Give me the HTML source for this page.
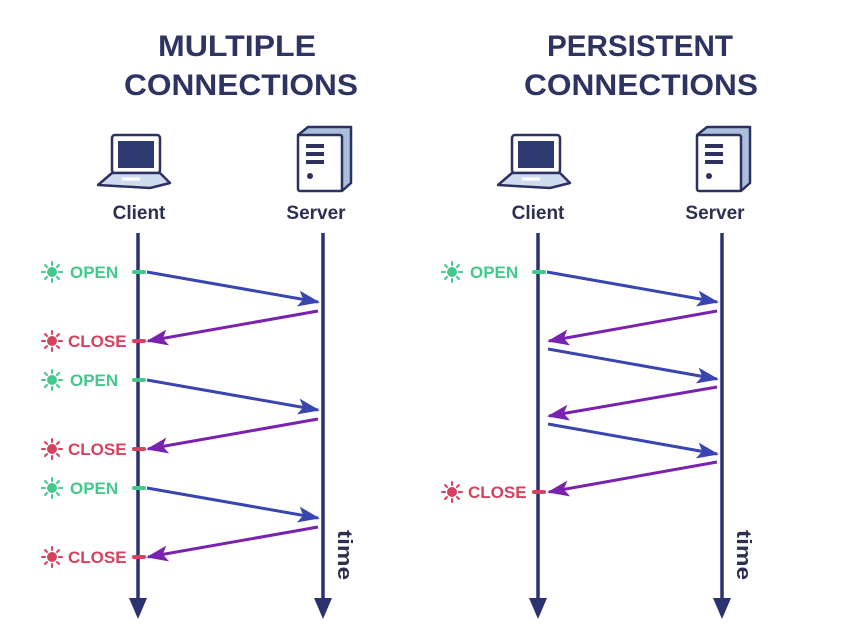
<!DOCTYPE html>
<html><head><meta charset="utf-8"><style>
html,body{margin:0;padding:0;background:#fff;}
svg{display:block;}
text{font-family:"Liberation Sans",sans-serif;font-weight:bold;}
</style></head><body>
<svg width="868" height="641" viewBox="0 0 868 641" xmlns="http://www.w3.org/2000/svg">
<defs>
<marker id="hb" markerUnits="userSpaceOnUse" markerWidth="22" markerHeight="16" refX="20" refY="8" orient="auto"><path d="M0,0 L22,8 L0,16 L5,8 Z" fill="#3a45b0"/></marker>
<marker id="hp" markerUnits="userSpaceOnUse" markerWidth="22" markerHeight="16" refX="20" refY="8" orient="auto"><path d="M0,0 L22,8 L0,16 L5,8 Z" fill="#7a22b0"/></marker>
<g id="sun"><circle r="4.5"/><g stroke-width="2" stroke-linecap="round"><line x1="0" y1="-7" x2="0" y2="-10"/><line x1="0" y1="7" x2="0" y2="10"/><line x1="-7" y1="0" x2="-10" y2="0"/><line x1="7" y1="0" x2="10" y2="0"/><line x1="5" y1="5" x2="7" y2="7"/><line x1="-5" y1="5" x2="-7" y2="7"/><line x1="5" y1="-5" x2="7" y2="-7"/><line x1="-5" y1="-5" x2="-7" y2="-7"/></g></g>
<g id="laptop"><rect x="12" y="2" width="48" height="38" rx="3" fill="#fff" stroke="#2d3160" stroke-width="2.5"/><rect x="18" y="8" width="36" height="27" fill="#2d3a70"/><path d="M12,40 L60,40 L70,50 L50,55 L-2,52 Z" fill="#cfdcf0" stroke="#2d3160" stroke-width="2.5" stroke-linejoin="round"/><line x1="22" y1="46" x2="40" y2="46" stroke="#fff" stroke-width="3"/></g>
<g id="server"><path d="M2,10 L12,2 L55,2 L55,58 L46,66 Z" fill="#a9bfdc" stroke="#2d3160" stroke-width="2.5" stroke-linejoin="round"/><rect x="2" y="10" width="44" height="56" rx="2" fill="#fff" stroke="#2d3160" stroke-width="2.5"/><rect x="10" y="19" width="18" height="4" fill="#2d3160"/><rect x="10" y="27" width="18" height="4" fill="#2d3160"/><rect x="10" y="35" width="18" height="4" fill="#2d3160"/><circle cx="14" cy="51" r="3" fill="#2d3160"/></g>
</defs>
<g fill="#2e3461" font-size="30">
<text x="237" y="56" text-anchor="middle" textLength="158" lengthAdjust="spacingAndGlyphs">MULTIPLE</text>
<text x="241" y="95" text-anchor="middle" textLength="234" lengthAdjust="spacingAndGlyphs">CONNECTIONS</text>
<text x="640" y="56" text-anchor="middle" textLength="186" lengthAdjust="spacingAndGlyphs">PERSISTENT</text>
<text x="641" y="95" text-anchor="middle" textLength="234" lengthAdjust="spacingAndGlyphs">CONNECTIONS</text>
</g>
<use href="#laptop" x="100" y="133"/><use href="#server" x="296" y="125"/>
<use href="#laptop" x="500" y="133"/><use href="#server" x="695" y="125"/>
<g fill="#2e3050" font-size="19" text-anchor="middle">
<text x="139" y="219">Client</text><text x="316" y="219">Server</text>
<text x="538" y="219">Client</text><text x="715" y="219">Server</text>
</g>
<g stroke="#2b3270" stroke-width="3.5">
<line x1="138" y1="233" x2="138" y2="605"/><line x1="323" y1="233" x2="323" y2="605"/>
<line x1="538" y1="233" x2="538" y2="605"/><line x1="722" y1="233" x2="722" y2="605"/>
</g>
<g fill="#2b3270">
<path d="M129,598 L147,598 L138,619 Z"/><path d="M314,598 L332,598 L323,619 Z"/>
<path d="M529,598 L547,598 L538,619 Z"/><path d="M713,598 L731,598 L722,619 Z"/>
</g>
<g font-size="20" fill="#2e3050"><text transform="translate(338,530) rotate(90)" textLength="50" lengthAdjust="spacingAndGlyphs">time</text><text transform="translate(737,530) rotate(90)" textLength="50" lengthAdjust="spacingAndGlyphs">time</text></g>
<g fill="#45c88c" stroke="#45c88c">
<use href="#sun" x="52" y="272"/><use href="#sun" x="52" y="380"/><use href="#sun" x="52" y="488"/><use href="#sun" x="452" y="272"/>
</g>
<g fill="#d8415e" stroke="#d8415e">
<use href="#sun" x="52" y="341"/><use href="#sun" x="52" y="449"/><use href="#sun" x="52" y="557"/><use href="#sun" x="452" y="492"/>
</g>
<g font-size="17">
<g fill="#45c88c"><text x="70" y="278">OPEN</text><text x="70" y="386">OPEN</text><text x="70" y="494">OPEN</text><text x="470" y="278">OPEN</text></g>
<g fill="#d8415e"><text x="68" y="347">CLOSE</text><text x="68" y="455">CLOSE</text><text x="68" y="563">CLOSE</text><text x="468" y="498">CLOSE</text></g>
</g>
<g stroke-width="4" stroke-linecap="round">
<g stroke="#45c88c"><line x1="134" y1="272" x2="144" y2="272"/><line x1="134" y1="380" x2="144" y2="380"/><line x1="134" y1="488" x2="144" y2="488"/><line x1="534" y1="272" x2="544" y2="272"/></g>
<g stroke="#d8415e"><line x1="134" y1="341" x2="144" y2="341"/><line x1="134" y1="449" x2="144" y2="449"/><line x1="134" y1="557" x2="144" y2="557"/><line x1="534" y1="492" x2="544" y2="492"/></g>
</g>
<g stroke-width="3" fill="none">
<g stroke="#3a45b0" marker-end="url(#hb)">
<line x1="147" y1="272" x2="318" y2="302"/><line x1="147" y1="380" x2="318" y2="410"/><line x1="147" y1="488" x2="318" y2="518"/>
<line x1="547" y1="272" x2="717" y2="302"/><line x1="548" y1="349" x2="717" y2="379"/><line x1="548" y1="424" x2="717" y2="454"/>
</g>
<g stroke="#7a22b0" marker-end="url(#hp)">
<line x1="318" y1="311" x2="148" y2="341"/><line x1="318" y1="419" x2="148" y2="449"/><line x1="318" y1="527" x2="148" y2="557"/>
<line x1="717" y1="311" x2="549" y2="341"/><line x1="717" y1="387" x2="549" y2="416"/><line x1="717" y1="462" x2="549" y2="492"/>
</g>
</g>
</svg>
</body></html>
